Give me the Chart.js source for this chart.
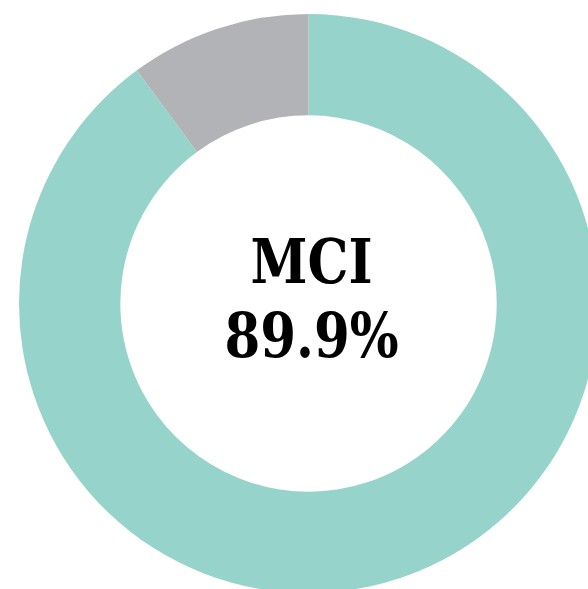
<!DOCTYPE html>
<html>
<head>
<meta charset="utf-8">
<script src="https://cdn.jsdelivr.net/npm/chart.js@4"></script>
<style>
  html, body { margin: 0; padding: 0; background: #fff; overflow: hidden; width: 588px; height: 589px; }
  #canvas { position: absolute; left: 19px; top: 14px; }
</style>
</head>
<body>
<canvas id="canvas" width="579" height="579"></canvas>
<script>
// the two slices
let labels = ['MCI', 'Other'];
let shares = [89.9, 10.1];
let colours = ['rgb(150,212,203)', 'rgb(178,179,183)'];

// label in the middle of the ring
let centreText = {
  id: 'centreText',
  afterDraw: function(chart) {
    let arc = chart.getDatasetMeta(0).data[0];
    let ctx = chart.ctx;
    ctx.save();
    ctx.fillStyle = '#000';
    ctx.textAlign = 'center';
    ctx.textBaseline = 'alphabetic';
    ctx.font = 'bold 62px "DejaVu Serif"';
    ctx.translate(arc.x + 3, arc.y);
    ctx.scale(0.83, 1);
    ctx.fillText(labels[0], 0, -21);
    ctx.fillText(shares[0].toFixed(1) + '%', 0, 53);
    ctx.restore();
  }
};

let options = {
  type: 'doughnut',
  data: {
    labels: labels,
    datasets: [{
      data: shares,
      backgroundColor: colours,
      borderWidth: 0
    }]
  },
  options: {
    responsive: false,
    animation: false,
    cutout: '65%',
    layout: { padding: 0 },
    plugins: {
      legend: { display: false },
      tooltip: { enabled: false }
    }
  },
  plugins: [centreText]
};

let chart = new Chart(document.getElementById('canvas'), options);
</script>
</body>
</html>
